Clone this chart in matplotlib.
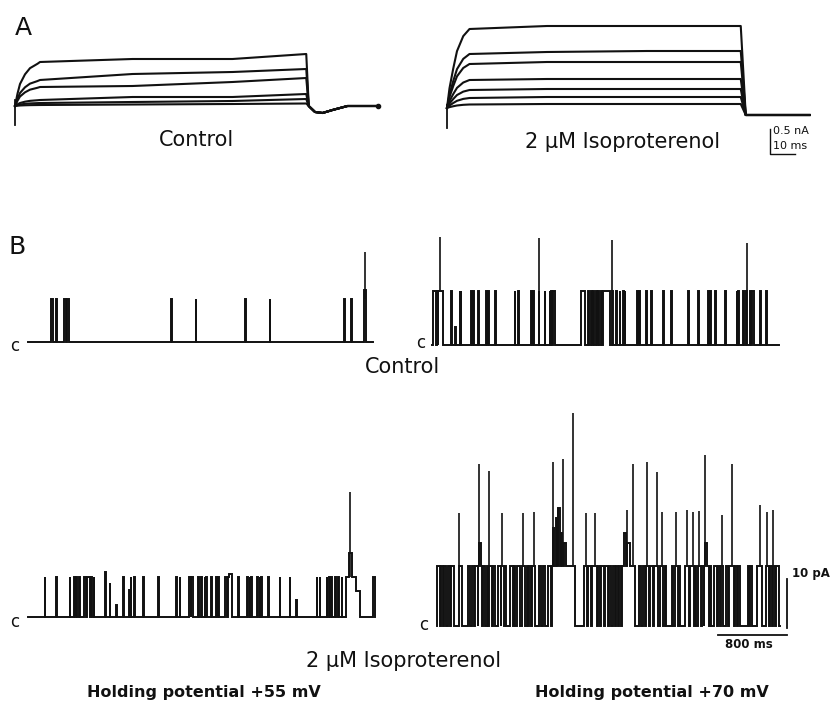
import matplotlib.pyplot as plt

W, H = 834, 702
INK = '#111111'

# ---------------- panel A: whole-cell currents (ms, nA) ----------------
ctl_rise_t = [0, 1, 2, 4, 6, 9]
ctl_rise_frac = [0, 0.28, 0.5, 0.72, 0.86, 0.96]
ctl_plateau_t = [10, 47, 87, 116.5]
ctl_levels = [[0.88, 0.94, 0.94, 1.04],
              [0.52, 0.64, 0.68, 0.74],
              [0.38, 0.40, 0.48, 0.56],
              [0.12, 0.18, 0.18, 0.24],
              [0.06, 0.08, 0.10, 0.14],
              [0.02, 0.03, 0.04, 0.05]]
ctl_tail_t = [117.5, 120, 123, 127, 133, 145]
ctl_tail_i = [0, -0.12, -0.14, -0.08, 0, 0]

iso_rise_t = [0, 1, 2.5, 4, 6.5]
iso_rise_frac = [0, 0.25, 0.5, 0.72, 0.91]
iso_plateau_t = [9, 40, 80, 117.5]
iso_levels = [[1.58, 1.64, 1.64, 1.64],
              [1.08, 1.12, 1.14, 1.14],
              [0.88, 0.92, 0.92, 0.92],
              [0.56, 0.58, 0.58, 0.58],
              [0.36, 0.38, 0.38, 0.38],
              [0.20, 0.22, 0.22, 0.22],
              [0.07, 0.08, 0.08, 0.08]]
iso_tail_t = [119.5, 145]
iso_tail_i = [-0.14, -0.14]

# ---------------- panel B: single channels (ms, pA) ----------------
ctl55_amp = 8.8
ctl55_end = 4000
ctl55_open = [(265, 290), (328, 340), (420, 440), (450, 476), (1663, 1671),
              (1945, 1953), (2521, 2529), (2803, 2811), (3662, 3670),
              (3743, 3751), (3900, 3915)]
ctl55_sub = [(3900, 3915, 10.6)]
ctl55_spikes = [(3908, 18.4)]

ctl70_amp = 11.0
ctl70_end = 4020
ctl70_open = [(10, 50), (58, 68), (72, 125), (226, 236), (271, 279), (321, 329),
              (331, 339), (456, 464), (476, 484), (534, 542), (630, 638),
              (650, 660), (735, 743), (959, 967), (998, 1006), (1152, 1160),
              (1172, 1180), (1237, 1245), (1307, 1315), (1365, 1373),
              (1384, 1392), (1405, 1425), (1730, 1775), (1810, 1818),
              (1848, 1856), (1868, 1876), (1906, 1914), (1926, 1934),
              (1964, 1972), (1988, 2065), (2088, 2096), (2138, 2146),
              (2177, 2185), (2216, 2224), (2235, 2243), (2374, 2390),
              (2398, 2413), (2486, 2494), (2544, 2552), (2680, 2688),
              (2776, 2784), (2970, 2978), (3086, 3094), (3202, 3210),
              (3221, 3229), (3279, 3287), (3395, 3403), (3531, 3539),
              (3550, 3558), (3608, 3616), (3646, 3654), (3689, 3700),
              (3706, 3728), (3801, 3809), (3878, 3886)]
ctl70_sub = [(271, 279, 3.7)]
ctl70_spikes = [(93, 22.0), (1241, 21.8), (2092, 21.4), (3650, 20.8)]

iso55_amp = 8.2
iso55_end = 4025
iso55_open = [(193, 201), (329, 337), (483, 491), (534, 542), (561, 569),
              (590, 602), (654, 675), (682, 719), (735, 743), (762, 770),
              (897, 905), (947, 955), (1025, 1033), (1102, 1110), (1172, 1180),
              (1191, 1199), (1230, 1238), (1334, 1342), (1508, 1516),
              (1721, 1729), (1759, 1767), (1868, 1890), (1895, 1918),
              (1972, 1980), (2011, 2019), (2049, 2057), (2069, 2077),
              (2127, 2135), (2185, 2193), (2204, 2212), (2285, 2310),
              (2318, 2370), (2436, 2444), (2544, 2552), (2571, 2579),
              (2591, 2599), (2656, 2664), (2687, 2695), (2707, 2715),
              (2784, 2792), (2919, 2927), (3035, 3043), (3113, 3121),
              (3345, 3353), (3383, 3391), (3461, 3469), (3488, 3496),
              (3511, 3519), (3565, 3573), (3596, 3604), (3635, 3643),
              (3689, 3844), (4004, 4020)]
iso55_sub = [(897, 905, 9.2), (947, 955, 7.0), (1025, 1033, 2.5),
             (1172, 1180, 5.5), (2330, 2360, 8.8), (3113, 3121, 3.5),
             (3725, 3760, 13.0), (3800, 3844, 5.3)]
iso55_spikes = [(3735, 25.5)]

iso70_amp = 12.3
iso70_end = 3980
iso70_open = [(0, 30), (45, 70), (85, 110), (125, 150), (165, 200), (250, 290),
              (355, 385), (400, 430), (445, 470), (480, 520), (530, 560),
              (575, 590), (600, 640), (655, 670), (710, 740), (745, 775),
              (790, 805), (850, 880), (895, 910), (930, 960), (990, 1025),
              (1040, 1060), (1070, 1090), (1100, 1140), (1180, 1210),
              (1225, 1250), (1290, 1320), (1335, 1600), (1700, 1740),
              (1755, 1780), (1800, 1850), (1865, 1890), (1905, 1935),
              (1950, 1980), (1995, 2020), (2035, 2060), (2075, 2100),
              (2110, 2130), (2150, 2290), (2340, 2370), (2385, 2410),
              (2420, 2460), (2475, 2500), (2515, 2565), (2580, 2625),
              (2640, 2660), (2720, 2740), (2755, 2790), (2800, 2815),
              (2875, 2920), (2935, 2980), (2990, 3000), (3030, 3060),
              (3075, 3095), (3100, 3150), (3160, 3175), (3215, 3245),
              (3260, 3280), (3290, 3315), (3350, 3375), (3390, 3440),
              (3455, 3480), (3490, 3510), (3600, 3620), (3630, 3650),
              (3715, 3770), (3815, 3845), (3860, 3880), (3890, 3920),
              (3935, 3960)]
iso70_sub = [(490, 515, 17.0), (1340, 1360, 20.0), (1375, 1395, 22.0),
             (1405, 1425, 24.0), (1435, 1455, 19.0), (1470, 1490, 17.0),
             (2165, 2190, 19.0), (2200, 2235, 17.0), (3110, 3130, 17.0)]
iso70_spikes = [(255, 23.0), (487, 33.0), (603, 31.6), (754, 23.0), (998, 23.0),
                (1125, 23.3), (1346, 33.5), (1404, 24.0), (1462, 34.0),
                (1578, 43.5), (1728, 23.0), (1833, 23.0), (2204, 23.7),
                (2274, 33.0), (2436, 33.5), (2552, 31.4), (2610, 23.3),
                (2772, 23.3), (2900, 23.7), (2970, 23.3), (3040, 23.5),
                (3109, 35.0), (3306, 22.6), (3422, 33.0), (3747, 24.7),
                (3828, 23.3), (3898, 23.7)]

fig = plt.figure(figsize=(W / 100, H / 100), dpi=100)


def panel(x0, y0, sx, sy, xlim, ylim):
    # x0, y0: pixel position of the data origin; sx, sy: pixels per unit
    left = (x0 + xlim[0] * sx) / W
    width = (xlim[1] - xlim[0]) * sx / W
    bottom = 1 - (y0 - ylim[0] * sy) / H
    height = (ylim[1] - ylim[0]) * sy / H
    ax = fig.add_axes([left, bottom, width, height])
    ax.set_xlim(xlim)
    ax.set_ylim(ylim)
    ax.axis('off')
    return ax


def ftext(x, y, s, **kw):
    fig.text(x / W, 1 - y / H, s, ha='center', va='center', color=INK, **kw)


def merge(openings, amp, subs):
    ev = []
    for a, b in openings:
        cur = a
        for s, e, lev in sorted(x for x in subs if a <= x[0] < b):
            if s > cur:
                ev.append((cur, s, amp))
            ev.append((s, e, lev))
            cur = e
        if cur < b:
            ev.append((cur, b, amp))
    return ev


def step_trace(events, t_end):
    changes = []
    for i, (a, b, lev) in enumerate(events):
        changes.append((a, lev))
        nxt = events[i + 1][0] if i + 1 < len(events) else None
        if nxt != b:
            changes.append((b, 0.0))
    t, y = [0.0], [0.0]
    for tc, lev in changes:
        t += [tc, tc]
        y += [y[-1], lev]
    t.append(t_end)
    y.append(y[-1])
    return t, y


def pulse_trace(rise_t, rise_frac, plat_t, levels, tail_t, tail_i):
    t = list(rise_t) + list(plat_t) + list(tail_t)
    i = [f * levels[0] for f in rise_frac] + list(levels) + list(tail_i)
    return t, i


# ---- A: control ----
axA1 = panel(15, 106, 2.5, 50, (-2, 150), (-0.6, 1.3))
for lev in ctl_levels:
    t, i = pulse_trace(ctl_rise_t, ctl_rise_frac, ctl_plateau_t, lev,
                       ctl_tail_t, ctl_tail_i)
    axA1.plot(t, i, color=INK, lw=1.5, solid_joinstyle='round')
axA1.plot([0, 0], [0.12, -0.38], color=INK, lw=1.3)
axA1.plot([145], [0], 'o', color=INK, ms=3)

# ---- A: isoproterenol ----
axA2 = panel(447, 108, 2.5, 50, (-2, 152), (-1.05, 1.8))
for lev in iso_levels:
    t, i = pulse_trace(iso_rise_t, iso_rise_frac, iso_plateau_t, lev,
                       iso_tail_t, iso_tail_i)
    axA2.plot(t, i, color=INK, lw=1.5, solid_joinstyle='round')
axA2.plot([0, 0], [0.06, -0.4], color=INK, lw=1.3)
# scale bar 0.5 nA / 10 ms
axA2.plot([129.2, 129.2, 139.2], [-0.42, -0.92, -0.92], color=INK, lw=1.0)
ftext(791, 131, '0.5 nA', fontsize=8)
ftext(790, 146, '10 ms', fontsize=8)

ftext(23, 28, 'A', fontsize=18)
ftext(196, 140, 'Control', fontsize=15)
ftext(623, 142, '2 \u03bcM Isoproterenol', fontsize=15)

# ---- B traces ----
SX = 69 / 800
SY = 4.9
traces = [
    (28, 342, ctl55_open, ctl55_amp, ctl55_sub, ctl55_spikes, ctl55_end, 15, 346),
    (432, 345, ctl70_open, ctl70_amp, ctl70_sub, ctl70_spikes, ctl70_end, 421, 343),
    (28, 617, iso55_open, iso55_amp, iso55_sub, iso55_spikes, iso55_end, 15, 622),
    (437, 626, iso70_open, iso70_amp, iso70_sub, iso70_spikes, iso70_end, 424, 625),
]
axB = []
for x0, y0, op, amp, sub, spk, t_end, cx, cy in traces:
    ax = panel(x0, y0, SX, SY, (-50, 4200), (-4, 46))
    t, y = step_trace(merge(op, amp, sub), t_end)
    ax.plot(t, y, color=INK, lw=1.4, solid_joinstyle='miter')
    ax.vlines([s[0] for s in spk], amp, [s[1] for s in spk], color=INK, lw=1.2)
    ftext(cx, cy, 'c', fontsize=12)
    axB.append(ax)

# scale bars 10 pA / 800 ms
axB[3].plot([4058, 4058], [-0.4, 9.6], color=INK, lw=1.3)
axB[3].plot([3258, 4058], [-1.84, -1.84], color=INK, lw=1.3)
ftext(811, 573, '10 pA', fontsize=8.5, fontweight='bold')
ftext(749, 645, '800 ms', fontsize=8.5, fontweight='bold')

ftext(17, 247, 'B', fontsize=18)
ftext(403, 367, 'Control', fontsize=15)
ftext(404, 661, '2 \u03bcM Isoproterenol', fontsize=15)
ftext(204, 692, 'Holding potential +55 mV', fontsize=11.5, fontweight='bold')
ftext(652, 692, 'Holding potential +70 mV', fontsize=11.5, fontweight='bold')

fig.savefig('out.png', dpi=100, facecolor='white')
